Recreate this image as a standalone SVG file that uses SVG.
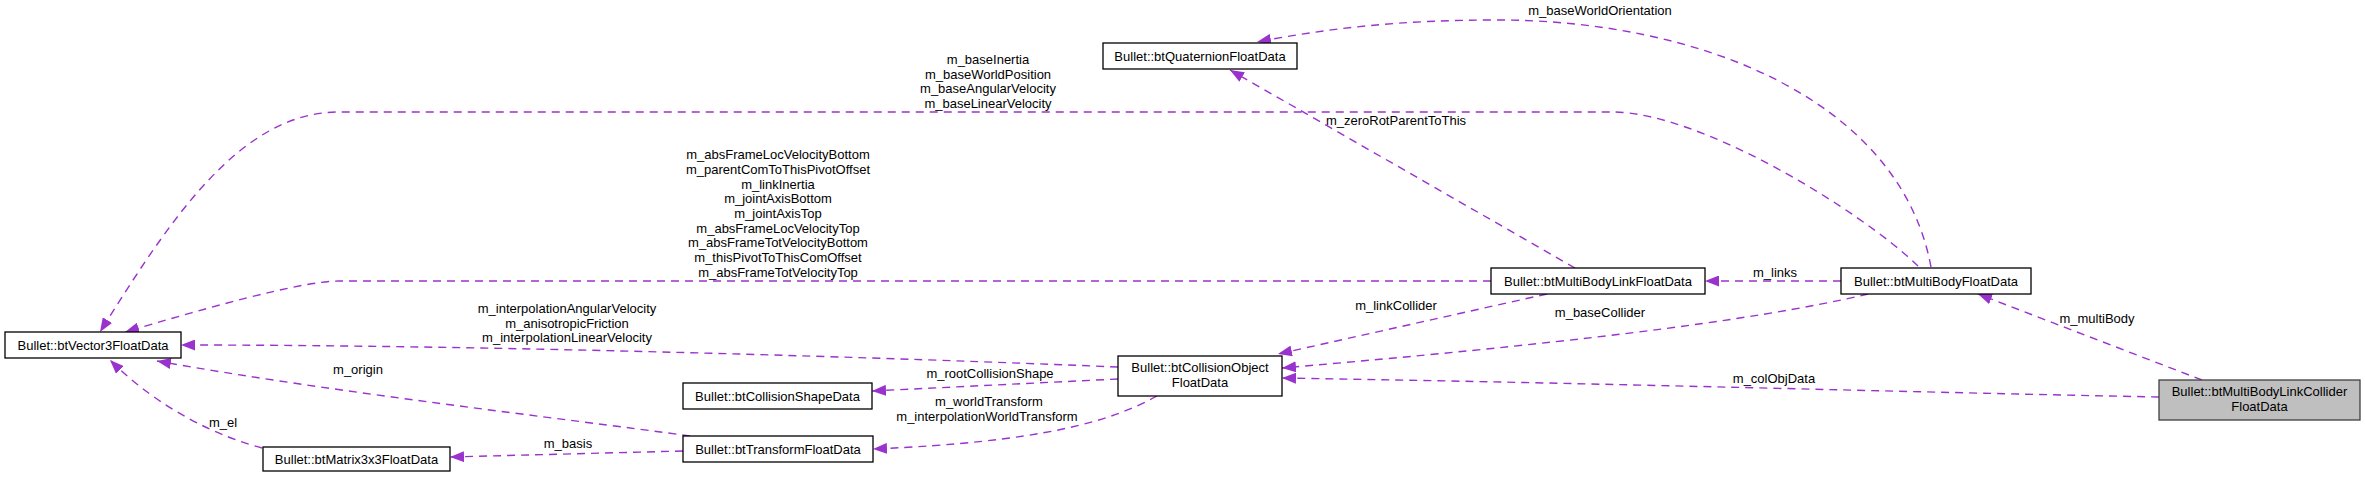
<svg xmlns="http://www.w3.org/2000/svg" width="2365" height="477" viewBox="0 0 2365 477">
<style>
text{font-family:"Liberation Sans",Arial,Helvetica,sans-serif;font-size:13px;fill:#000}
.n rect{fill:#fff;stroke:#000;stroke-width:1.3}
.n text{text-anchor:middle}
.g rect{fill:#bfbfbf;stroke:#404040}
.e path{fill:none;stroke:#9a32cd;stroke-width:1.4;stroke-dasharray:8,6;marker-end:url(#ah)}
.l text{text-anchor:middle}
</style>
<defs>
<marker id="ah" markerUnits="userSpaceOnUse" markerWidth="14" markerHeight="11" refX="14" refY="5.5" orient="auto">
<path d="M0,0 L14,5.5 L0,11 z" fill="#9a32cd"/>
</marker>
</defs>
<rect width="2365" height="477" fill="#fff"/>
<g id="edges" class="e">
<path d="M1918,266 C1860,210 1700,112 1612,112 L339,112 C240,112 170,220 100,332"/>
<path d="M1491,281 L339,281 C300,281 200,310 125,332"/>
<path d="M1118,367 C900,358 500,345 181,345"/>
<path d="M690,436 C560,418 330,392 157,361"/>
<path d="M262,448 C220,437 160,410 110,360"/>
<path d="M683,451 L450,457"/>
<path d="M1118,379 L872,391"/>
<path d="M1157,396 C1110,422 1040,442 873,449"/>
<path d="M1547,294 L1278,354"/>
<path d="M1868,294 C1750,322 1550,345 1282,368"/>
<path d="M2159,397 C1900,392 1600,383 1282,378"/>
<path d="M1841,281 L1705,281"/>
<path d="M2202,380 L1978,294"/>
<path d="M1931,267 C1900,100 1700,20 1497,20 C1400,20 1330,28 1257,42"/>
<path d="M1575,268 L1230,70"/>
</g>
<g id="labels" class="l">
<text x="1600" y="15">m_baseWorldOrientation</text>
<text x="988" y="64">m_baseInertia</text>
<text x="988" y="78.7">m_baseWorldPosition</text>
<text x="988" y="93.3">m_baseAngularVelocity</text>
<text x="988" y="108">m_baseLinearVelocity</text>
<text x="1396" y="125">m_zeroRotParentToThis</text>
<text x="778" y="159.3">m_absFrameLocVelocityBottom</text>
<text x="778" y="174">m_parentComToThisPivotOffset</text>
<text x="778" y="188.7">m_linkInertia</text>
<text x="778" y="203.3">m_jointAxisBottom</text>
<text x="778" y="218">m_jointAxisTop</text>
<text x="778" y="232.7">m_absFrameLocVelocityTop</text>
<text x="778" y="247.3">m_absFrameTotVelocityBottom</text>
<text x="778" y="262">m_thisPivotToThisComOffset</text>
<text x="778" y="276.7">m_absFrameTotVelocityTop</text>
<text x="567" y="313">m_interpolationAngularVelocity</text>
<text x="567" y="327.7">m_anisotropicFriction</text>
<text x="567" y="342.3">m_interpolationLinearVelocity</text>
<text x="1396" y="310">m_linkCollider</text>
<text x="1600" y="317">m_baseCollider</text>
<text x="1775" y="277">m_links</text>
<text x="2097" y="323">m_multiBody</text>
<text x="1774" y="383">m_colObjData</text>
<text x="990" y="378">m_rootCollisionShape</text>
<text x="989" y="406">m_worldTransform</text>
<text x="987" y="420.7">m_interpolationWorldTransform</text>
<text x="358" y="374">m_origin</text>
<text x="568" y="448">m_basis</text>
<text x="223" y="427">m_el</text>
</g>
<g id="btVector3FloatData" class="n"><rect x="5" y="332" width="176" height="26"/><text x="93" y="349.5">Bullet::btVector3FloatData</text></g>
<g id="btMatrix3x3FloatData" class="n"><rect x="263" y="447" width="187" height="24"/><text x="356.5" y="463.5">Bullet::btMatrix3x3FloatData</text></g>
<g id="btCollisionShapeData" class="n"><rect x="683" y="383" width="189" height="26"/><text x="777.5" y="400.5">Bullet::btCollisionShapeData</text></g>
<g id="btTransformFloatData" class="n"><rect x="683" y="436" width="190" height="26"/><text x="778" y="453.5">Bullet::btTransformFloatData</text></g>
<g id="btCollisionObjectFloatData" class="n"><rect x="1118" y="356" width="164" height="40"/><text x="1200" y="372">Bullet::btCollisionObject</text><text x="1200" y="386.5">FloatData</text></g>
<g id="btQuaternionFloatData" class="n"><rect x="1103" y="43" width="194" height="26"/><text x="1200" y="60.5">Bullet::btQuaternionFloatData</text></g>
<g id="btMultiBodyLinkFloatData" class="n"><rect x="1491" y="268" width="214" height="26"/><text x="1598" y="285.5">Bullet::btMultiBodyLinkFloatData</text></g>
<g id="btMultiBodyFloatData" class="n"><rect x="1841" y="268" width="190" height="26"/><text x="1936" y="285.5">Bullet::btMultiBodyFloatData</text></g>
<g id="btMultiBodyLinkColliderFloatData" class="n g"><rect x="2159" y="380" width="201" height="40"/><text x="2259.5" y="396">Bullet::btMultiBodyLinkCollider</text><text x="2259.5" y="410.5">FloatData</text></g>
</svg>
